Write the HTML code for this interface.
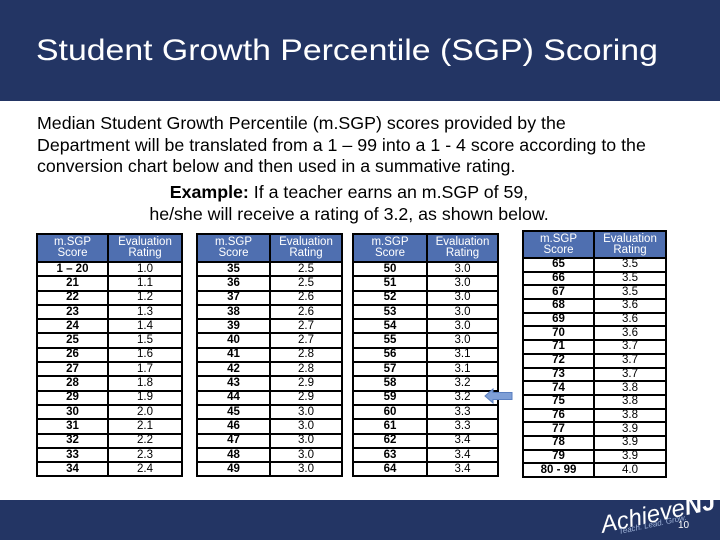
<!DOCTYPE html>
<html><head><meta charset="utf-8">
<style>
body{margin:0;width:720px;height:540px;position:relative;background:#fff;font-family:"Liberation Sans",sans-serif;overflow:hidden}
#hdr{position:absolute;left:0;top:0;width:720px;height:101px;background:#233564}
#title{position:absolute;left:36px;top:34px;color:#fff;font-size:30px;white-space:nowrap;transform-origin:left top}
.p{position:absolute;font-size:17.8px;color:#000;white-space:nowrap}
table{position:absolute;border-collapse:collapse;font-size:11.5px;table-layout:fixed}
td,th{border:2px solid #000;text-align:center;padding:0;line-height:11px}
th{background:#4f6fb0;color:#fff;font-weight:normal;border-color:#000}
td.s{font-weight:bold}
#ftr{position:absolute;left:0;top:500px;width:720px;height:40px;background:#233564}
</style></head><body>
<div id="hdr"><div id="title">Student Growth Percentile (SGP) Scoring</div></div>
<div class="p" style="left:37px;top:113px">Median Student Growth Percentile (m.SGP) scores provided by the</div>
<div class="p" style="left:37px;top:135px">Department will be translated from a 1 – 99 into a 1 - 4 score according to the</div>
<div class="p" style="left:37px;top:156px">conversion chart below and then used in a summative rating.</div>
<div class="p" style="left:0;width:698px;text-align:center;top:182px"><b>Example:</b> If a teacher earns an m.SGP of 59,</div>
<div class="p" style="left:0;width:698px;text-align:center;top:204px">he/she will receive a rating of 3.2, as shown below.</div>
<div id="tables"></div>
<svg style="position:absolute;left:484px;top:388px" width="30" height="16"><polygon points="1,8 9,1 9,4.5 28,4.5 28,11.5 9,11.5 9,15" fill="#7f9fd6" stroke="#5a7fc0"/></svg>
<div id="ftr">
<div style="position:absolute;left:600px;top:0px;color:#fff;font-size:24px;font-style:italic;transform:rotate(-12deg)">Achieve<b>NJ</b></div>
<div style="position:absolute;left:618px;top:20px;color:#9fb3d9;font-size:8px;font-style:italic;transform:rotate(-12deg)">Teach. Lead. Grow.</div>
<div style="position:absolute;left:678px;top:20px;color:#fff;font-size:10px">10</div>
</div>
<script>
const scores1=["1 – 20","21","22","23","24","25","26","27","28","29","30","31","32","33","34"];
const ratings1=["1.0","1.1","1.2","1.3","1.4","1.5","1.6","1.7","1.8","1.9","2.0","2.1","2.2","2.3","2.4"];
const scores2=["35","36","37","38","39","40","41","42","43","44","45","46","47","48","49"];
const ratings2=["2.5","2.5","2.6","2.6","2.7","2.7","2.8","2.8","2.9","2.9","3.0","3.0","3.0","3.0","3.0"];
const scores3=["50","51","52","53","54","55","56","57","58","59","60","61","62","63","64"];
const ratings3=["3.0","3.0","3.0","3.0","3.0","3.0","3.1","3.1","3.2","3.2","3.3","3.3","3.4","3.4","3.4"];
const scores4=["65","66","67","68","69","70","71","72","73","74","75","76","77","78","79","80 - 99"];
const ratings4=["3.5","3.5","3.5","3.6","3.6","3.6","3.7","3.7","3.7","3.8","3.8","3.8","3.9","3.9","3.9","4.0"];
const layout=[[36,233,71,74,28,14.3,scores1,ratings1],[196,233,73,72,28,14.3,scores2,ratings2],[352,233,74,71,28,14.3,scores3,ratings3],[522,230,71,72,27,13.7,scores4,ratings4]];
const host=document.getElementById('tables');
layout.forEach((L,i)=>{
  const [x,y,w1,w2,hh,rh,sc,rt]=L;
  const t=document.createElement('table');
  
  
  t.style.left=x+'px';t.style.top=y+'px';t.style.width=(w1+w2)+'px';
  let h='<colgroup><col style="width:'+w1+'px"><col style="width:'+w2+'px"></colgroup>';
  h+='<tr style="height:'+hh+'px"><th>m.SGP<br>Score</th><th>Evaluation<br>Rating</th></tr>';
  sc.forEach((s,j)=>{h+='<tr style="height:'+rh+'px"><td class="s">'+s+'</td><td>'+rt[j]+'</td></tr>';});
  t.innerHTML=h;
  host.appendChild(t);
});
const tt=document.getElementById('title');
tt.style.transform='scaleX('+(622/tt.offsetWidth)+')';
</script>
</body></html>
